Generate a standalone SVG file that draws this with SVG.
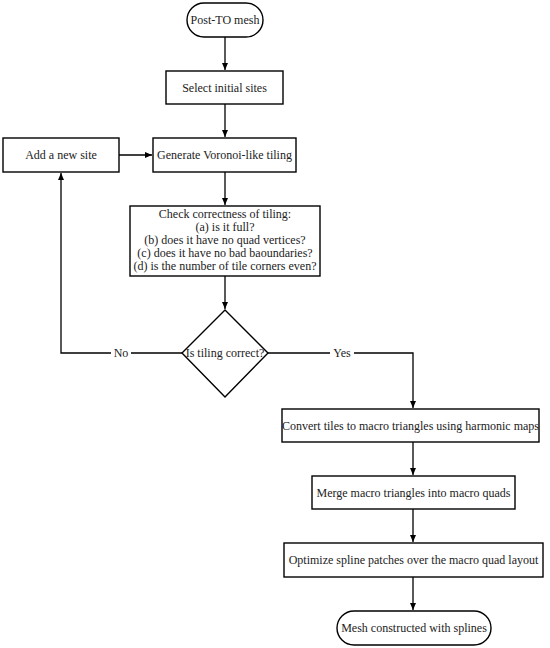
<svg xmlns="http://www.w3.org/2000/svg" width="550" height="648" viewBox="0 0 550 648">
<style>
.n{fill:#fff;stroke:#000;stroke-width:1.4}
.t{font-family:"Liberation Serif","DejaVu Serif",serif;font-size:12px;fill:#222;text-anchor:middle}
.c{fill:none;stroke:#000;stroke-width:1.3}
</style>
<defs>
<marker id="a" markerWidth="8" markerHeight="8" refX="7" refY="4" orient="auto" markerUnits="userSpaceOnUse">
<path d="M0,1 L7,4 L0,7 Z" fill="#000"/>
</marker>
</defs>
<rect width="550" height="648" fill="#fff"/>
<g id="connectors">
<line class="c" x1="225" y1="37" x2="225" y2="70" marker-end="url(#a)"/>
<line class="c" x1="225" y1="104" x2="225" y2="137" marker-end="url(#a)"/>
<line class="c" x1="119" y1="155" x2="152" y2="155" marker-end="url(#a)"/>
<line class="c" x1="225" y1="172" x2="225" y2="205" marker-end="url(#a)"/>
<line class="c" x1="225" y1="276" x2="225" y2="309" marker-end="url(#a)"/>
<polyline class="c" points="182,353 61,353 61,173" marker-end="url(#a)"/>
<polyline class="c" points="268,353 413,353 413,408" marker-end="url(#a)"/>
<line class="c" x1="413" y1="442" x2="413" y2="475" marker-end="url(#a)"/>
<line class="c" x1="413" y1="509" x2="413" y2="542" marker-end="url(#a)"/>
<line class="c" x1="413" y1="577" x2="413" y2="610" marker-end="url(#a)"/>
<rect x="111" y="346" width="20" height="14" fill="#fff"/>
<text class="t" x="121" y="357">No</text>
<rect x="330" y="346" width="24" height="14" fill="#fff"/>
<text class="t" x="342" y="357">Yes</text>
</g>
<g id="post-to-mesh">
<rect class="n" x="187" y="3" width="76" height="34" rx="17"/>
<text class="t" x="225" y="24">Post-TO mesh</text>
</g>
<g id="select-initial-sites">
<rect class="n" x="166" y="71" width="117" height="33"/>
<text class="t" x="224.5" y="91.5">Select initial sites</text>
</g>
<g id="generate-tiling">
<rect class="n" x="153" y="138" width="143" height="34"/>
<text class="t" x="224.5" y="159">Generate Voronoi-like tiling</text>
</g>
<g id="add-new-site">
<rect class="n" x="3" y="138" width="116" height="34"/>
<text class="t" x="61" y="159">Add a new site</text>
</g>
<g id="check-tiling">
<rect class="n" x="130" y="206" width="190" height="70"/>
<text class="t" x="225" y="218">Check correctness of tiling:</text>
<text class="t" x="225" y="231">(a) is it full?</text>
<text class="t" x="225" y="244">(b) does it have no quad vertices?</text>
<text class="t" x="225" y="257">(c) does it have no bad baoundaries?</text>
<text class="t" x="225" y="270">(d) is the number of tile corners even?</text>
</g>
<g id="is-tiling-correct">
<polygon class="n" points="225,310 268,353 225,397 182,353"/>
<text class="t" x="225" y="357">Is tiling correct?</text>
</g>
<g id="convert-tiles">
<rect class="n" x="282" y="409" width="257" height="33"/>
<text class="t" x="410.5" y="429.5">Convert tiles to macro triangles using harmonic maps</text>
</g>
<g id="merge-triangles">
<rect class="n" x="312" y="476" width="203" height="33"/>
<text class="t" x="413.5" y="496.5">Merge macro triangles into macro quads</text>
</g>
<g id="optimize-splines">
<rect class="n" x="284" y="543" width="259" height="34"/>
<text class="t" x="413.5" y="564">Optimize spline patches over the macro quad layout</text>
</g>
<g id="mesh-constructed">
<rect class="n" x="337" y="611" width="154" height="34" rx="17"/>
<text class="t" x="414" y="632">Mesh constructed with splines</text>
</g>
</svg>
